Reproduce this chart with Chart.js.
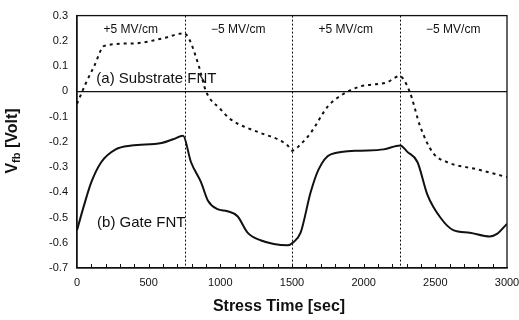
<!DOCTYPE html>
<html>
<head>
<meta charset="utf-8">
<script src="https://cdn.jsdelivr.net/npm/chart.js@4/dist/chart.umd.min.js"></script>
<style>
  html, body { margin: 0; padding: 0; background: #fff; }
  #wrap { width: 519px; height: 320px; }
</style>
</head>
<body>
<div id="wrap"><canvas id="myChart"></canvas></div>
<script>
// (a) substrate FNT, dotted curve
const timesA = [0, 60, 120, 190, 400, 600, 745, 780, 850, 900, 1000, 1070, 1280, 1400, 1470, 1500, 1560, 1630, 1750, 1860, 1980, 2160, 2250, 2320, 2395, 2485, 2580, 2800, 3000];
const voltsA = [-0.05, 0.03, 0.10, 0.18, 0.19, 0.21, 0.23, 0.21, 0.10, 0.0, -0.07, -0.11, -0.165, -0.19, -0.215, -0.235, -0.21, -0.165, -0.06, -0.01, 0.02, 0.035, 0.06, 0.0, -0.14, -0.245, -0.28, -0.31, -0.34];

// (b) gate FNT, solid curve
const timesB = [0, 50, 100, 170, 270, 380, 590, 670, 740, 795, 865, 915, 980, 1050, 1120, 1190, 1280, 1470, 1505, 1560, 1630, 1685, 1770, 1980, 2140, 2255, 2305, 2375, 2445, 2535, 2625, 2740, 2880, 2930, 3000];
const voltsB = [-0.55, -0.45, -0.36, -0.28, -0.23, -0.215, -0.205, -0.19, -0.176, -0.28, -0.36, -0.435, -0.467, -0.475, -0.495, -0.56, -0.59, -0.61, -0.60, -0.56, -0.40, -0.31, -0.25, -0.235, -0.23, -0.215, -0.24, -0.28, -0.41, -0.50, -0.55, -0.56, -0.575, -0.565, -0.525];

// stress polarity switches and the field labels between them
const switchTimes = [750, 1500, 2250];
const fieldLabels = ["+5 MV/cm", "\u22125 MV/cm", "+5 MV/cm", "\u22125 MV/cm"];

const FONT = "'Liberation Sans', Arial, sans-serif";

function pairs(xs, ys) {
    return xs.map((t, i) => ({ x: t, y: ys[i] }));
}

const extras = {
    id: "extras",
    afterDatasetsDraw(chart) {
        const { ctx, chartArea: a, scales: { x, y } } = chart;
        ctx.save();
        ctx.strokeStyle = "#111";

        // frame
        ctx.lineWidth = 1.3;
        ctx.strokeRect(a.left, a.top, a.right - a.left, a.bottom - a.top);

        // dotted switch lines
        ctx.lineWidth = 1;
        ctx.setLineDash([2, 2]);
        switchTimes.forEach((t) => {
            const px = Math.round(x.getPixelForValue(t)) + 0.5;
            ctx.beginPath();
            ctx.moveTo(px, a.top);
            ctx.lineTo(px, a.bottom);
            ctx.stroke();
        });
        ctx.setLineDash([]);

        // inward minor ticks on the time axis
        for (let t = 100; t < 3000; t += 100) {
            const px = Math.round(x.getPixelForValue(t)) + 0.5;
            ctx.beginPath();
            ctx.moveTo(px, a.bottom);
            ctx.lineTo(px, a.bottom - 4);
            ctx.stroke();
        }

        ctx.fillStyle = "#111";
        ctx.textBaseline = "middle";

        // field labels
        ctx.font = "12px " + FONT;
        ctx.textAlign = "center";
        const edges = [0].concat(switchTimes, [3000]);
        fieldLabels.forEach((s, i) => {
            const px = x.getPixelForValue((edges[i] + edges[i + 1]) / 2);
            ctx.fillText(s, px, y.getPixelForValue(0.245));
        });

        // curve labels
        ctx.font = "15px " + FONT;
        ctx.textAlign = "left";
        ctx.fillText("(a) Substrate FNT", x.getPixelForValue(135), y.getPixelForValue(0.048));
        ctx.fillText("(b) Gate FNT", x.getPixelForValue(140), y.getPixelForValue(-0.52));

        // x title
        ctx.font = "bold 16px " + FONT;
        ctx.textAlign = "center";
        ctx.fillText("Stress Time [sec]", 279, 307);

        // y title with subscript
        ctx.translate(13, 141);
        ctx.rotate(-Math.PI / 2);
        ctx.textAlign = "left";
        const big = "bold 16px " + FONT, small = "bold 11px " + FONT;
        ctx.font = big; const w1 = ctx.measureText("V").width;
        ctx.font = small; const w2 = ctx.measureText("fb").width;
        ctx.font = big; const w3 = ctx.measureText(" [Volt]").width;
        let cx = -(w1 + w2 + w3) / 2;
        ctx.font = big; ctx.fillText("V", cx, 0); cx += w1;
        ctx.font = small; ctx.fillText("fb", cx, 4); cx += w2;
        ctx.font = big; ctx.fillText(" [Volt]", cx, 0);
        ctx.restore();
    },
};

const config = {
    type: "line",
    data: {
        datasets: [
            {
                label: "(a) Substrate FNT",
                data: pairs(timesA, voltsA),
                borderColor: "#111",
                borderWidth: 2,
                borderDash: [3, 4],
                pointRadius: 0,
                cubicInterpolationMode: "monotone",
            },
            {
                label: "(b) Gate FNT",
                data: pairs(timesB, voltsB),
                borderColor: "#111",
                borderWidth: 2,
                pointRadius: 0,
                cubicInterpolationMode: "monotone",
            },
        ],
    },
    options: {
        responsive: true,
        maintainAspectRatio: false,
        animation: false,
        layout: { padding: { top: 10, right: 12, left: 0, bottom: 0 } },
        plugins: { legend: { display: false }, tooltip: { enabled: false } },
        scales: {
            x: {
                type: "linear",
                min: 0,
                max: 3000,
                ticks: {
                    stepSize: 500,
                    padding: 8,
                    color: "#111",
                    font: { family: FONT, size: 11 },
                    callback: (v) => String(v),
                },
                grid: { display: false, drawTicks: false },
                border: { display: true, color: "#111", width: 1.3 },
                afterFit(s) {
                    s.height = 52;
                    s.paddingRight = 0;
                    s.paddingLeft = 0;
                },
            },
            y: {
                min: -0.7,
                max: 0.3,
                ticks: { stepSize: 0.1, padding: 9, color: "#111", font: { family: FONT, size: 11 } },
                grid: {
                    drawTicks: false,
                    color: (c) => (c.tick && Math.abs(c.tick.value) < 1e-9 ? "#111" : "transparent"),
                    lineWidth: 1.2,
                },
                border: { display: true, color: "#111", width: 1.3 },
                afterFit(s) { s.width = 77; },
            },
        },
    },
    plugins: [extras],
};

new Chart(document.getElementById("myChart"), config);
</script>
</body>
</html>
